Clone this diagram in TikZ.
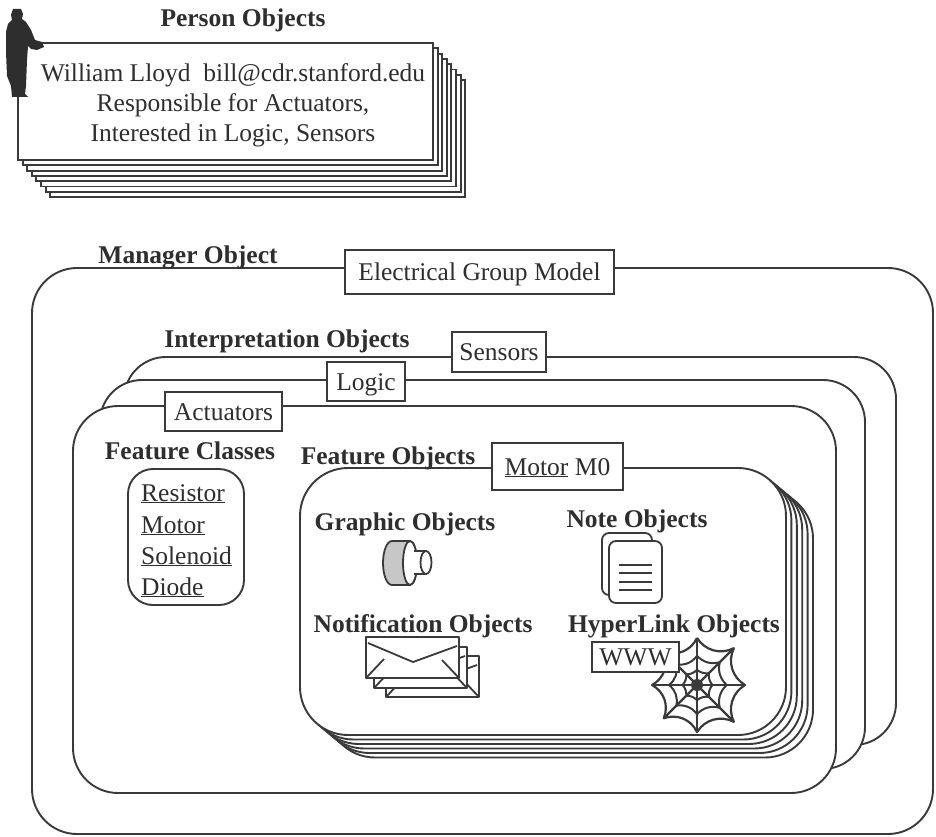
\documentclass[tikz,border=0pt]{standalone}
\usepackage{fontspec}
\setmainfont{Liberation Serif}
\definecolor{ink}{HTML}{3A3A3A}
\definecolor{txt}{HTML}{2E2E2E}
\begin{document}
\begin{tikzpicture}[x=1pt,y=-1pt,
  every node/.style={text=txt, font=\fontsize{25.5}{30.5}\selectfont, inner sep=0pt},
  frame/.style={draw=ink, line width=1.9pt, fill=white},
  heading/.style={font=\fontsize{25.5}{30.5}\selectfont\bfseries, anchor=base},
  plain/.style={anchor=base},
  tag/.style={draw=ink, line width=1.9pt, fill=white, text height=17pt, text depth=0pt},
  iconline/.style={draw=ink, line width=1.8pt, line join=round},
]
\fill[white] (0,0) rectangle (936,837);
\useasboundingbox (0,0) rectangle (936,837);

% ---------- person cards ----------
\foreach \i in {7,6,...,0} {
  \draw[frame] (18+4.6*\i, 43+5.3*\i) rectangle ++(415,117);
}
\node[heading] (personlbl) at (243,26.5) {Person Objects};
\node[plain] (cardA) at (233,81.5) {William Lloyd\ \ bill@cdr.stanford.edu};
\node[plain] (cardB) at (233,111.5) {Responsible for Actuators,};
\node[plain] (cardC) at (233,141.5) {Interested in Logic, Sensors};

% person silhouette leaning on the cards
\fill[txt] (13,9) -- (21,9) -- (23,14) -- (22,19) -- (26,22) -- (31,30) -- (35,40)
  -- (42,42) -- (44,47) -- (37,50) -- (31,49) -- (28,46) -- (27,60) -- (26,86)
  -- (25,94) -- (28,97) -- (12,97) -- (11,86) -- (7,76) -- (6,52) -- (6,32)
  -- (8,24) -- (12,20) -- (11,15) -- cycle;

% ---------- manager and interpretation layers ----------
\draw[draw=ink, line width=1.9pt, rounded corners=45pt] (32,268) rectangle (933,834);
\draw[frame, rounded corners=42pt] (124,357) rectangle (896,745);
\draw[frame, rounded corners=42pt] (100,380) rectangle (865,769);
\draw[frame, rounded corners=45pt] (73,406) rectangle (836,793);

\node[heading] (mgrlbl) at (188,263) {Manager Object};
\node[tag, minimum width=269pt, minimum height=44pt] (egm) at (479.5,272) {Electrical Group Model};
\node[heading] (interplbl) at (287,347) {Interpretation Objects};
\node[tag, minimum width=94pt, minimum height=40pt] (sensors) at (499,352) {Sensors};
\node[tag, minimum width=78pt, minimum height=39pt] (logic) at (366,381.5) {Logic};
\node[tag, minimum width=117pt, minimum height=39pt] (actuators) at (223.5,411.5) {Actuators};

% ---------- feature classes ----------
\node[heading] (fclbl) at (190,459) {Feature Classes};
\draw[frame, rounded corners=25pt] (128,469) rectangle (244,605);
\node[anchor=base west] (fcres) at (141,501) {\underline{Resistor}};
\node[anchor=base west] (fcmot) at (141,533) {\underline{Motor}};
\node[anchor=base west] (fcsol) at (141,564) {\underline{Solenoid}};
\node[anchor=base west] (fcdio) at (141,595) {\underline{Diode}};

% ---------- feature objects stack ----------
\foreach \i in {5,4,...,0} {
  \draw[frame, rounded corners=48pt] (300+5.4*\i, 468+4.5*\i) rectangle ++(486,267);
}
\node[heading] (folbl) at (388,464) {Feature Objects};
\node[tag, minimum width=131pt, minimum height=47pt] (motorm0) at (557.5,466.5) {\underline{Motor} M0};

% graphic objects: motor drawing
\node[heading] (golbl) at (405,530) {Graphic Objects};
\filldraw[iconline, fill=black!22] (410,541) -- (392,541)
  arc[start angle=270, end angle=90, x radius=9, y radius=22]
  -- (410,585) arc[start angle=90, end angle=-90, x radius=7, y radius=22];
\filldraw[iconline, fill=white] (410,563) ellipse[x radius=7, y radius=22];
\filldraw[iconline, fill=white] (414,551) -- (426,551) -- (426,574) -- (414,574);
\filldraw[iconline, fill=white] (426,562.5) ellipse[x radius=5.5, y radius=11.5];

% note objects: stacked pages
\node[heading] (nolbl) at (637,527) {Note Objects};
\filldraw[iconline, fill=white, rounded corners=7pt] (602,533) rectangle (652,595);
\filldraw[iconline, fill=white, rounded corners=7pt] (609,541) rectangle (662,603);
\foreach \ly in {565,573,582,590} {
  \draw[iconline] (619,\ly) -- (652,\ly);
}
\foreach \dy in {548,554,...,596} {
  \fill[ink] (609,\dy) circle (1.1pt);
}

% notification objects: envelopes
\node[heading] (notiflbl) at (423,632) {Notification Objects};
\foreach \ex/\ey in {386/656, 374/647, 366/637} {
  \filldraw[iconline, fill=white] (\ex,\ey) rectangle ++(93,41);
  \draw[iconline] (\ex+2,\ey+6) -- (\ex+47,\ey+25) -- (\ex+91,\ey+9);
  \draw[iconline] (\ex,\ey+41) -- (\ex+18,\ey+22);
  \draw[iconline] (\ex+93,\ey+41) -- (\ex+76,\ey+23);
}

% hyperlink objects: spider web
\node[heading] (hllbl) at (674,632) {HyperLink Objects};
\begin{scope}[shift={(697,685)}]
  \foreach \a/\r [count=\k] in {270/47, 315/52, 0/48, 45/52, 90/47, 135/47, 180/45, 225/47} {
    \coordinate (w\k) at (\a:\r);
    \coordinate (m\k) at (\a:0.62*\r);
    \coordinate (n\k) at (\a:0.32*\r);
    \draw[iconline, line width=2.2pt] (0,0) -- (w\k);
  }
  \draw[iconline, line width=2.2pt] (w1) to[bend right=42] (w2) to[bend right=42] (w3)
    to[bend right=42] (w4) to[bend right=42] (w5) to[bend right=42] (w6)
    to[bend right=42] (w7) to[bend right=42] (w8) to[bend right=42] (w1);
  \draw[iconline, line width=2pt] (m1) to[bend right=30] (m2) to[bend right=30] (m3)
    to[bend right=30] (m4) to[bend right=30] (m5) to[bend right=30] (m6)
    to[bend right=30] (m7) to[bend right=30] (m8) to[bend right=30] (m1);
  \draw[iconline, line width=2pt] (n1) to[bend right=20] (n2) to[bend right=20] (n3)
    to[bend right=20] (n4) to[bend right=20] (n5) to[bend right=20] (n6)
    to[bend right=20] (n7) to[bend right=20] (n8) to[bend right=20] (n1);
  \fill[ink] (0,0) circle (6pt);
\end{scope}
\node[tag, minimum width=87pt, minimum height=30pt] (www) at (635.5,657) {WWW};

\end{tikzpicture}
\end{document}
